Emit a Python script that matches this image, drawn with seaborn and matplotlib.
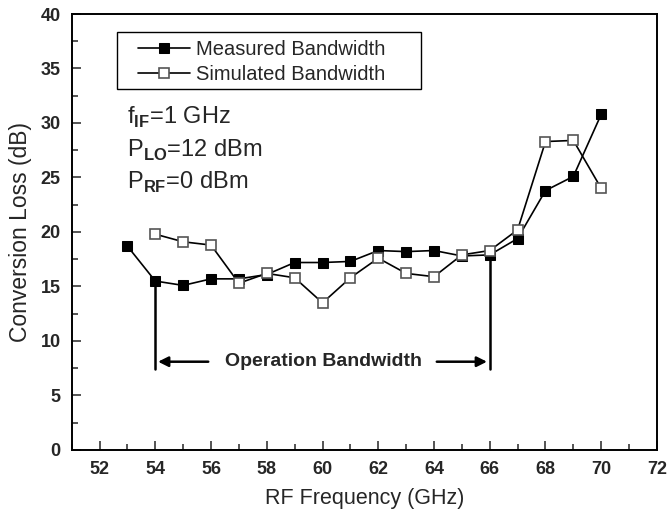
import numpy as np
import pandas as pd
import matplotlib
matplotlib.use("Agg")
import matplotlib.pyplot as plt
from matplotlib.ticker import MultipleLocator
from matplotlib.patches import Rectangle
import seaborn as sns

meas_freq = [53, 54, 55, 56, 57, 58, 59, 60, 61, 62, 63, 64, 65, 66, 67, 68, 69, 70]
meas_loss = [18.7, 15.5, 15.1, 15.7, 15.7, 16.1, 17.2, 17.2, 17.3, 18.3, 18.2, 18.3, 17.8, 17.9, 19.4, 23.8, 25.1, 30.8]
sim_freq = [54, 55, 56, 57, 58, 59, 60, 61, 62, 63, 64, 65, 66, 67, 68, 69, 70]
sim_loss = [19.8, 19.1, 18.8, 15.3, 16.2, 15.8, 13.5, 15.8, 17.6, 16.2, 15.9, 17.9, 18.3, 20.2, 28.3, 28.4, 24.0]
labels = ["Measured Bandwidth", "Simulated Bandwidth"]
band_edges = [54, 66]
band_y = 8.1

sns.set_style("ticks")
plt.rcParams['font.family'] = ['Liberation Sans', 'DejaVu Sans']
plt.rcParams['mathtext.fontset'] = 'custom'
plt.rcParams['mathtext.rm'] = 'Liberation Sans'
plt.rcParams['mathtext.bf'] = 'Liberation Sans:bold'

fig = plt.figure(figsize=(6.68, 5.11), dpi=100)
ax = fig.add_axes([0.1073, 0.1194, 0.8762, 0.8532])

dm = pd.DataFrame({"f": meas_freq, "l": meas_loss})
ds = pd.DataFrame({"f": sim_freq, "l": sim_loss})
sns.lineplot(data=dm, x="f", y="l", ax=ax, color="black", lw=1.2, marker="s",
             markersize=7, markerfacecolor="black", markeredgecolor="black",
             label=labels[0])
sns.lineplot(data=ds, x="f", y="l", ax=ax, color="black", lw=1.2, marker="s",
             markersize=7, markerfacecolor="white", markeredgecolor="#555555",
             markeredgewidth=1.2, label=labels[1])

# operation bandwidth markers
m_at = dict(zip(meas_freq, meas_loss))
for e in band_edges:
    ax.plot([e, e], [m_at[e], 7.4], color="black", lw=1.8, zorder=1)
ax.annotate("", xy=(band_edges[0], band_y), xytext=(56.0, band_y),
            arrowprops=dict(arrowstyle="-|>", color="black", lw=1.8, mutation_scale=15))
ax.annotate("", xy=(band_edges[1], band_y), xytext=(64.0, band_y),
            arrowprops=dict(arrowstyle="-|>", color="black", lw=1.8, mutation_scale=15))
ax.text(60.05, band_y, "Operation Bandwidth", ha="center", va="center",
        fontsize=14, fontweight="bold")

ax.text(53.0, 29.9, r"f$_{\mathbf{IF}}$=1 GHz", fontsize=17, va="baseline")
ax.text(53.0, 26.9, r"P$_{\mathbf{LO}}$=12 dBm", fontsize=17, va="baseline")
ax.text(53.0, 24.0, r"P$_{\mathbf{RF}}$=0 dBm", fontsize=17, va="baseline")

ax.set_xlim(51, 72)
ax.set_ylim(0, 40)
ax.xaxis.set_major_locator(MultipleLocator(2))
ax.xaxis.set_minor_locator(MultipleLocator(1))
ax.yaxis.set_major_locator(MultipleLocator(5))
ax.yaxis.set_minor_locator(MultipleLocator(2.5))
ax.tick_params(which="both", direction="in", top=False, right=False, width=1.1)
ax.tick_params(which="major", length=6.5, labelsize=13, pad=8)
ax.tick_params(which="minor", length=4)
for lab in ax.get_xticklabels() + ax.get_yticklabels():
    lab.set_fontweight("bold")
for s in ax.spines.values():
    s.set_visible(True)
    s.set_linewidth(1.4)
    s.set_color("black")

ax.set_xlabel("RF Frequency (GHz)", fontsize=15.5, labelpad=7)
ax.set_ylabel("Conversion Loss (dB)", fontsize=16.5, labelpad=6)

# legend box (frame drawn separately to match the wide original box)
ax.add_patch(Rectangle((0.0774, 0.828), 0.5196, 0.131, transform=ax.transAxes,
                       facecolor="white", edgecolor="black", lw=1.0, zorder=4))
leg = ax.legend(loc="upper left", bbox_to_anchor=(0.113, 0.941), borderaxespad=0,
                fontsize=14.5, frameon=False, handlelength=2.6,
                handletextpad=0.3, borderpad=0.0, labelspacing=0.3)
leg.set_zorder(5)

fig.savefig("out.png", dpi=100)
